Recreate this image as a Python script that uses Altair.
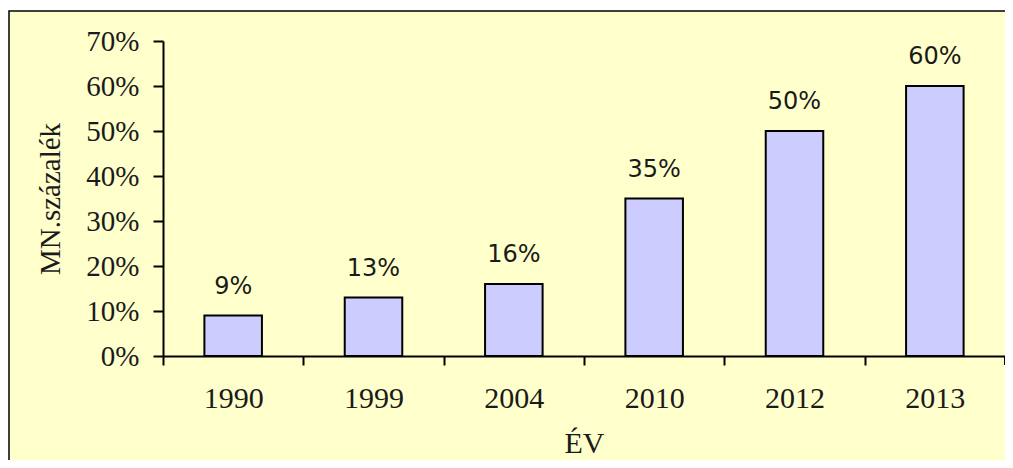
import altair as alt
import pandas as pd

years = ["1990", "1999", "2004", "2010", "2012", "2013"]
values = [0.09, 0.13, 0.16, 0.35, 0.50, 0.60]
y_ticks = [0, 0.1, 0.2, 0.3, 0.4, 0.5, 0.6, 0.7]

W = 842
H = 315
STEP = W / len(years)

df = pd.DataFrame({"year": years, "value": values})

x_enc = alt.X(
    "year:N",
    sort=years,
    scale=alt.Scale(paddingInner=0.59, paddingOuter=0.295),
    axis=alt.Axis(
        title="ÉV",
        titleFont="Liberation Serif",
        titleFontSize=30,
        titleFontWeight="normal",
        titleColor="#1a1a1a",
        titlePadding=15,
        labelFont="Liberation Serif",
        labelFontSize=30,
        labelColor="#1a1a1a",
        labelAngle=0,
        labelPadding=18,
        tickOffset=-STEP / 2,
        labelOffset=STEP / 2,
        tickSize=9,
        tickWidth=2,
        tickColor="black",
        domainColor="black",
        domainWidth=2,
        zindex=2,
    ),
)

y_enc = alt.Y(
    "value:Q",
    scale=alt.Scale(domain=[0, 0.7], nice=False),
    axis=alt.Axis(
        title="MN.százalék",
        titleFont="Liberation Serif",
        titleFontSize=29,
        titleFontWeight="normal",
        titleColor="#1a1a1a",
        titlePadding=20,
        values=y_ticks,
        format=".0%",
        labelFont="Liberation Serif",
        labelFontSize=29,
        labelColor="#1a1a1a",
        labelPadding=14,
        tickSize=10,
        tickWidth=2,
        tickColor="black",
        domainColor="black",
        domainWidth=2,
        grid=False,
        zindex=2,
    ),
)

frame = alt.Chart(pd.DataFrame({"k": [0]})).mark_rect(
    fill="#FFFFCC", stroke="black", strokeWidth=1.5
).encode(
    x=alt.value(-154), x2=alt.value(W + 40),
    y=alt.value(-30), y2=alt.value(H + 200),
)

bars = alt.Chart(df).mark_bar(
    color="#CCCCFF", stroke="black", strokeWidth=2
).encode(x=x_enc, y=y_enc)

labels = alt.Chart(df).mark_text(
    font="DejaVu Sans", fontSize=24, color="#1a1a1a",
    baseline="alphabetic", dy=-22
).encode(
    x=alt.X("year:N", sort=years),
    y="value:Q",
    text=alt.Text("value:Q", format=".0%"),
)

end_tick = alt.Chart(pd.DataFrame({"k": [0]})).mark_rule(
    color="black", strokeWidth=2
).encode(
    x=alt.value(W), y=alt.value(H), y2=alt.value(H + 9)
)

chart = alt.layer(frame, bars, labels, end_tick).properties(
    width=W, height=H,
    autosize=alt.AutoSizeParams(type="none"),
    padding={"left": 155, "top": 33, "right": 0, "bottom": 104},
    background="white",
).configure_view(stroke=None)

chart.save("out.html", embed_options={"renderer": "svg", "actions": False})
